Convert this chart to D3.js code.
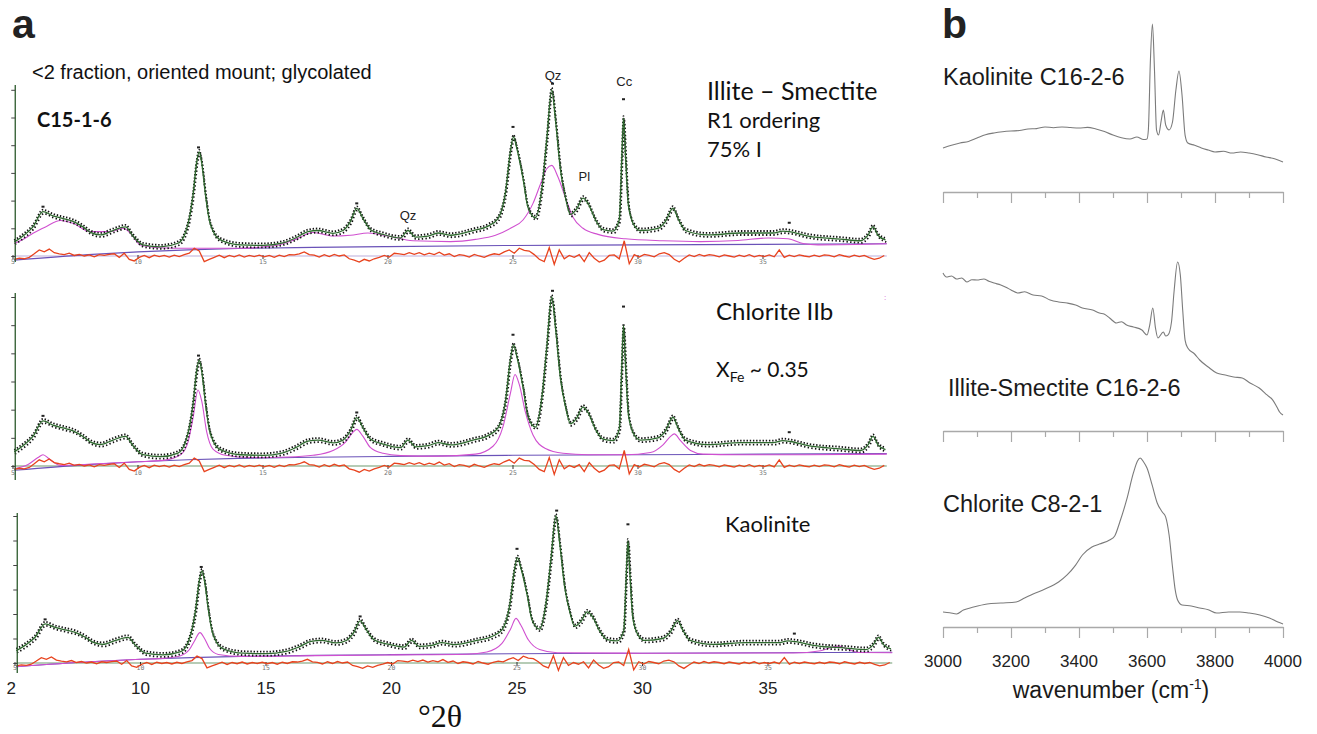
<!DOCTYPE html>
<html><head><meta charset="utf-8">
<script src="https://cdn.jsdelivr.net/npm/d3@7"></script>
<style>body{margin:0;background:#fff}svg{display:block}</style>
</head><body>
<svg id="c" width="1317" height="734"></svg>
<script>
// ---------- Panel a data (°2θ, intensity in axis-tick units) ----------
const observedXRD = [
 [5.05,0.5],[5.4,0.72],[5.8,1.05],[6.2,1.6],[6.6,1.45],[7.0,1.35],[7.4,1.25],[7.8,1.05],[8.1,0.85],[8.5,0.76],
 [9.0,0.92],[9.5,1.05],[9.8,0.72],[10.2,0.4],[10.9,0.33],[11.6,0.46],[11.9,0.85],[12.05,1.35],[12.2,2.2],[12.35,3.4],
 [12.45,3.76],[12.55,3.35],[12.7,2.2],[12.85,1.3],[13.0,0.9],[13.3,0.58],[14.1,0.4],[15.0,0.38],[15.8,0.47],[16.3,0.65],
 [16.8,0.88],[17.2,0.92],[17.8,0.82],[18.2,0.92],[18.5,1.25],[18.75,1.72],[19.0,1.35],[19.3,0.95],[19.8,0.78],[20.5,0.65],
 [20.8,0.92],[21.1,0.68],[21.6,0.72],[22.0,0.83],[22.5,0.75],[23.4,0.92],[24.0,1.08],[24.4,1.35],[24.7,2.3],[24.9,3.8],
 [25.02,4.3],[25.15,3.9],[25.4,2.8],[25.6,1.75],[25.9,1.38],[26.15,2.4],[26.35,4.2],[26.55,6.0],[26.7,4.9],[26.9,3.1],
 [27.1,2.1],[27.3,1.5],[27.55,1.7],[27.8,2.09],[28.0,1.9],[28.3,1.3],[28.6,0.95],[29.0,0.9],[29.25,1.3],[29.35,3.5],
 [29.42,4.98],[29.5,3.6],[29.62,1.8],[29.85,1.1],[30.1,0.92],[30.8,1.0],[31.1,1.25],[31.4,1.73],[31.6,1.35],[31.9,0.92],
 [32.8,0.76],[34.1,0.83],[35.4,0.83],[35.8,0.9],[36.1,0.87],[36.8,0.72],[38.1,0.61],[38.9,0.55],[39.2,0.75],[39.4,1.05],
 [39.6,0.75],[39.9,0.58]
];
const observedTopMarks = [[6.2,1.78],[12.42,3.92],[18.75,1.9],[25.0,4.66],[26.58,6.22],[29.42,5.66],[36.05,1.2]];
const backgroundXRD = [[5.05,-0.15],[8,0.05],[10,0.15],[12,0.22],[14,0.27],[17,0.31],[20,0.34],[25,0.38],[30,0.4],[35,0.42],[39.95,0.44]];
const illiteSmectiteFit = [
 [5.05,0.45],[5.5,0.65],[5.8,0.82],[6.3,1.05],[6.9,1.28],[7.4,1.18],[8.1,0.88],[8.9,0.88],[9.4,1.0],[9.7,0.82],
 [10.1,0.4],[10.9,0.3],[12,0.28],[14,0.28],[15.5,0.38],[16.3,0.6],[17,0.85],[17.8,0.72],[18.5,0.75],[19.2,0.83],
 [20,0.72],[21,0.55],[22.5,0.52],[23.5,0.6],[24.3,0.75],[24.9,1.0],[25.4,1.3],[25.8,1.9],[26.1,2.6],[26.35,3.15],
 [26.55,3.27],[26.8,2.85],[27.1,2.1],[27.4,1.4],[27.8,1.0],[28.4,0.78],[29.5,0.62],[31.0,0.55],[32.5,0.52],[34,0.56],
 [35.2,0.65],[36,0.62],[36.6,0.45],[37.2,0.4],[39.95,0.44]
];
const chloriteFit = [
 [5.05,-0.1],[5.6,0.05],[6.0,0.3],[6.2,0.4],[6.45,0.25],[6.9,0.02],[8,0.06],[10,0.15],[11,0.2],[11.7,0.4],
 [12.0,0.85],[12.2,1.7],[12.4,2.7],[12.55,2.3],[12.75,1.2],[13.0,0.6],[13.5,0.38],[14.5,0.3],[16,0.32],[17,0.38],
 [17.8,0.55],[18.3,0.85],[18.6,1.2],[18.75,1.3],[19.0,1.05],[19.3,0.65],[19.8,0.45],[20.5,0.37],[22,0.35],[23.5,0.42],
 [24.2,0.7],[24.6,1.4],[24.9,2.6],[25.08,3.25],[25.25,2.9],[25.5,1.9],[25.8,1.1],[26.3,0.62],[27,0.45],[28,0.4],
 [29.5,0.4],[30.5,0.48],[31.0,0.75],[31.3,1.05],[31.45,1.14],[31.7,0.9],[32.1,0.55],[32.6,0.42],[34,0.4],[36,0.4],[39.95,0.42]
];
const kaoliniteFit = [
 [5.05,-0.15],[8,0.05],[10,0.15],[11,0.2],[11.6,0.3],[11.95,0.55],[12.15,0.9],[12.37,1.24],[12.55,1.0],[12.75,0.6],
 [13.1,0.35],[14,0.27],[17,0.3],[20,0.33],[23,0.36],[23.8,0.45],[24.4,0.8],[24.75,1.4],[24.96,1.82],[25.15,1.55],
 [25.45,0.95],[25.9,0.55],[26.6,0.42],[30,0.4],[36,0.41],[37.1,0.5],[37.6,0.66],[37.8,0.69],[38.1,0.6],[38.6,0.43],[39.95,0.42]
];
// residual (obs - calc), sampled every 0.2 °2θ from 5.05
const residualStart = 5.05, residualStep = 0.2;
const residualXRD = [
 -0.12,-0.08,-0.1,-0.05,0.08,0.22,0.15,0.25,0.12,0.08,
 0.05,0.1,0.02,0.06,0.0,0.04,-0.03,0.05,0.02,0.06,
 0.08,-0.05,0.1,-0.12,-0.18,-0.05,0.02,-0.06,0.03,-0.02,
 0.02,-0.04,0.03,-0.02,0.05,0.1,0.28,0.18,-0.2,-0.12,
 -0.05,0.03,-0.06,0.02,-0.03,0.04,-0.04,0.02,-0.02,0.03,
 -0.03,0.02,-0.05,0.03,-0.02,0.05,0.04,0.08,0.15,0.05,
 0.03,-0.04,0.05,-0.02,0.06,0.0,0.04,-0.1,-0.15,-0.22,
 -0.12,-0.18,-0.1,-0.05,0.02,-0.04,0.1,0.08,0.05,0.12,
 0.06,0.12,0.04,0.1,0.05,0.14,0.03,0.08,-0.02,0.05,
 0.02,-0.04,0.06,0.0,-0.05,0.03,0.08,0.05,0.15,0.22,
 0.1,0.28,0.2,0.18,0.05,-0.12,-0.2,0.3,-0.3,0.22,
 -0.1,0.02,-0.05,0.05,-0.2,0.12,-0.08,-0.22,-0.15,0.02,
 0.04,-0.1,0.55,-0.28,0.05,-0.04,0.06,0.02,-0.03,0.08,
 0.12,0.05,-0.12,-0.22,-0.08,0.04,-0.02,0.06,0.0,0.05,
 0.02,-0.03,0.04,0.0,-0.04,0.03,-0.02,0.05,-0.03,0.02,
 -0.02,0.04,-0.03,0.22,-0.05,0.03,-0.02,0.04,0.0,-0.03,
 0.03,-0.02,0.04,0.02,-0.03,0.05,0.0,-0.04,0.03,-0.02,
 0.02,-0.06,-0.12,-0.08,0.02
];
const smallTickVals = [5,10,15,20,25,30,35];
const bigTickVals = [4.85,10,15,20,25,30,35];
const bigTickLabels = ["2","10","15","20","25","30","35"];
const peakLabels = [{t:"Qz",x:20.8,y:1.3},{t:"Qz",x:26.6,y:6.35},{t:"Pl",x:27.85,y:2.7},{t:"Cc",x:29.45,y:6.13}];

// ---------- Panel b data (wavenumber cm-1, relative absorbance) ----------
const irKaolinite = [
 [3000,14.7],[3025,16.5],[3050,18],[3075,19],[3100,21.3],[3125,23.5],[3150,24.7],[3175,25.5],[3200,26],[3225,26.3],
 [3250,27.3],[3275,27.6],[3300,28.7],[3325,28.2],[3350,28.7],[3375,28.3],[3400,28],[3425,28.4],[3450,27.3],[3475,25.6],
 [3500,23.3],[3525,21.5],[3550,20.7],[3570,22],[3590,20.3],[3600,20.7],[3604,26.7],[3610,73],[3616,97.3],[3622,66.7],
 [3628,26.7],[3634,23.3],[3642,33.3],[3648,40],[3655,30],[3665,26.7],[3675,32],[3685,53.3],[3694,66],[3703,50],
 [3712,23.3],[3720,18],[3740,16.5],[3760,14.7],[3780,13.3],[3800,12],[3825,12.5],[3850,11.3],[3875,12],[3900,11.3],
 [3925,10.2],[3950,8.7],[3975,7.5],[4000,5.3]
];
const irIlliteSmectite = [
 [3000,98],[3010,95.3],[3025,96],[3040,94],[3055,94.7],[3070,92],[3085,93.5],[3100,93.3],[3120,94],[3135,92.5],
 [3150,91.3],[3170,90],[3185,88.5],[3200,86.7],[3220,84.7],[3240,85.5],[3265,83.3],[3290,82.7],[3315,80],[3340,78.7],
 [3365,78],[3390,76.7],[3410,74.7],[3440,73.3],[3460,71.3],[3475,70.5],[3490,68],[3510,64.7],[3525,65.5],[3540,63.3],
 [3560,62],[3585,60],[3600,56.7],[3608,63.3],[3617,74.7],[3625,61.3],[3632,54.7],[3648,58.7],[3655,56],[3662,56.7],
 [3672,65.3],[3680,86.7],[3690,105.3],[3698,96.7],[3705,73.3],[3712,53.3],[3720,48],[3740,44],[3755,40],[3780,35.3],
 [3805,31.3],[3830,30],[3855,28.7],[3880,28],[3903,24.7],[3930,21.3],[3953,16.7],[3970,13.3],[3982,8.7],[3990,5.3],[4000,3.3]
];
const irChlorite = [
 [3000,12],[3020,11.5],[3040,10.7],[3060,13.3],[3090,15.3],[3130,17.3],[3170,18],[3215,18.7],[3240,21.3],[3265,24],
 [3300,27.3],[3340,32],[3365,36.7],[3390,43.3],[3410,50],[3438,55.3],[3460,57.3],[3490,60],[3505,62.7],[3520,72],
 [3540,86.7],[3560,104.7],[3572,112.7],[3580,114.7],[3590,112],[3600,108],[3615,96.7],[3630,84.7],[3645,78.7],[3655,75.3],
 [3665,63.3],[3675,42],[3683,26.7],[3690,20],[3703,16.7],[3730,16],[3755,14.7],[3780,13.5],[3805,11.3],[3840,12],
 [3873,12],[3900,11.3],[3932,10],[3960,8],[3985,5.3],[4000,4]
];
const irTickVals = [3000,3100,3200,3300,3400,3500,3600,3700,3800,3900,4000];
const irTickLabels = ["3000","3200","3400","3600","3800","4000"];

// ---------- drawing ----------
const svg = d3.select('#c');
const sans = "'Liberation Sans', Arial, sans-serif";
const cal = "Lato, 'Open Sans', sans-serif";

const xTop = d3.scaleLinear().domain([5,40]).range([13,888]);
const xBot = d3.scaleLinear().domain([5,40]).range([15,893.5]);
const subplots = [
 {x:xTop, y:d3.scaleLinear().domain([0,6]).range([256,89.8]), fit:illiteSmectiteFit, axis:[85,262], zero:'#bcaedb', lab:8},
 {x:xTop, y:d3.scaleLinear().domain([0,6]).range([466,297]), fit:chloriteFit, axis:[293,480], zero:'#6e9a6e', lab:9},
 {x:xBot, y:d3.scaleLinear().domain([0,6]).range([663,516]), fit:kaoliniteFit, axis:[513,673], zero:'#6e9a6e', lab:7}
];

subplots.forEach(p => {
  const g = svg.append('g');
  const line = d3.line().x(d=>p.x(d[0])).y(d=>p.y(d[1])).curve(d3.curveMonotoneX);
  const x0 = p.x(5.05), x1 = p.x(39.95);
  g.append('line').attr('x1',x0).attr('x2',x1).attr('y1',p.y(0)).attr('y2',p.y(0))
    .attr('stroke',p.zero).attr('stroke-width',1.2);
  smallTickVals.forEach(v=>{
    g.append('line').attr('x1',p.x(v)).attr('x2',p.x(v)).attr('y1',p.y(0)-1).attr('y2',p.y(0)+3)
      .attr('stroke','#333').attr('stroke-width',1);
    g.append('text').attr('x',p.x(v)).attr('y',p.y(0)+p.lab).attr('text-anchor','middle')
      .attr('font-family',"'DejaVu Sans Mono', monospace").attr('font-size',6.5).attr('fill','#777').text(v);
  });
  g.append('path').datum(backgroundXRD).attr('d',line).attr('fill','none')
    .attr('stroke','#6a52b8').attr('stroke-width',1.1);
  g.append('path').datum(p.fit).attr('d',line).attr('fill','none')
    .attr('stroke','#d050d0').attr('stroke-width',1.1);
  const resLine = d3.line().x((d,i)=>p.x(residualStart+i*residualStep)).y(d=>p.y(d));
  g.append('path').datum(residualXRD).attr('d',resLine).attr('fill','none')
    .attr('stroke','#e8431e').attr('stroke-width',1.3);
  g.append('path').datum(observedXRD).attr('d',line).attr('fill','none').attr('transform','translate(0,-2)')
    .attr('stroke','#111').attr('stroke-width',1.8).attr('stroke-dasharray','1.4,1.8');
  g.append('path').datum(observedXRD).attr('d',line).attr('fill','none').attr('transform','translate(0.8,2)')
    .attr('stroke','#111').attr('stroke-width',1.8).attr('stroke-dasharray','1.4,2.3');
  g.append('path').datum(observedXRD).attr('d',line).attr('fill','none')
    .attr('stroke','#2e6a2e').attr('stroke-width',1.3);
  observedTopMarks.forEach(m=>{
    g.append('rect').attr('x',p.x(m[0])-1.5).attr('y',p.y(m[1])-1).attr('width',3).attr('height',2).attr('fill','#222');
  });
  g.append('line').attr('x1',x0+1).attr('x2',x0+1).attr('y1',p.axis[0]).attr('y2',p.axis[1])
    .attr('stroke','#2c5a2c').attr('stroke-width',1.3);
  const ax = g.append('g').attr('transform',`translate(${x0+1},0)`)
    .call(d3.axisLeft(p.y).tickValues([0,1,2,3,4,5,6]).tickSize(4).tickFormat(''));
  ax.select('.domain').remove();
  ax.selectAll('line').attr('stroke','#444');
});

const topSub = subplots[0];
peakLabels.forEach(l=>{
  svg.append('text').attr('x',topSub.x(l.x)).attr('y',topSub.y(l.y)).attr('text-anchor','middle')
    .attr('font-family',sans).attr('font-size',13).attr('fill','#222').text(l.t);
});
svg.append('text').attr('x',32).attr('y',79).attr('font-family',sans).attr('font-size',20).attr('fill','#111')
  .text('<2 fraction, oriented mount; glycolated');
svg.append('text').attr('x',37).attr('y',127).attr('font-family',cal).attr('font-weight','bold').attr('font-size',20).attr('fill','#111')
  .text('C15-1-6');
svg.append('text').attr('x',707).attr('y',100).attr('font-family',cal).attr('font-size',25).attr('fill','#111').text('Illite – Smectite');
svg.append('text').attr('x',707).attr('y',128).attr('font-family',cal).attr('font-size',22).attr('fill','#111').text('R1 ordering');
svg.append('text').attr('x',707).attr('y',157).attr('font-family',cal).attr('font-size',22).attr('fill','#111').text('75% I');
svg.append('text').attr('x',716).attr('y',320).attr('font-family',cal).attr('font-size',24).attr('fill','#111').text('Chlorite IIb');
const xfe = svg.append('text').attr('x',716).attr('y',377).attr('font-family',cal).attr('font-size',21).attr('fill','#111');
xfe.append('tspan').text('X');
xfe.append('tspan').attr('font-size',14).attr('dy',5).text('Fe');
xfe.append('tspan').attr('dy',-5).text(' ~ 0.35');
svg.append('text').attr('x',884).attr('y',300).attr('font-family',sans).attr('font-size',8).attr('fill','#d050d0').text(':');
svg.append('text').attr('x',725).attr('y',532).attr('font-family',cal).attr('font-size',22).attr('fill','#111').text('Kaolinite');

bigTickVals.forEach((v,i)=>{
  svg.append('text').attr('x',xBot(v)).attr('y',694).attr('text-anchor','middle')
    .attr('font-family',sans).attr('font-size',17).attr('fill','#222').text(bigTickLabels[i]);
});
svg.append('text').attr('x',418).attr('y',727).attr('font-family',"'Liberation Serif', 'DejaVu Serif', serif")
  .attr('font-size',32).attr('fill','#111').text('°2θ');

svg.append('text').attr('x',12).attr('y',38).attr('font-family',sans).attr('font-weight','bold').attr('font-size',41).attr('fill','#222').text('a');
svg.append('text').attr('x',942).attr('y',38).attr('font-family',sans).attr('font-weight','bold').attr('font-size',41).attr('fill','#222').text('b');

// ---------- panel b ----------
const xIR = d3.scaleLinear().domain([3000,4000]).range([943,1283]);
const irPanels = [
 {data:irKaolinite, y:d3.scaleLinear().domain([0,100]).range([170,20]), axisY:192, label:'Kaolinite C16-2-6', ly:85},
 {data:irIlliteSmectite, y:d3.scaleLinear().domain([0,100]).range([420,270]), axisY:431, label:'Illite-Smectite C16-2-6', ly:396, lx:948},
 {data:irChlorite, y:d3.scaleLinear().domain([0,100]).range([630,480]), axisY:627, label:'Chlorite C8-2-1', ly:512, ticks:true}
];
irPanels.forEach(p=>{
  const g = svg.append('g');
  const ax = g.append('g').attr('transform',`translate(0,${p.axisY})`)
    .call(d3.axisBottom(xIR).tickValues(irTickVals).tickSize(11).tickSizeOuter(0).tickFormat(''));
  ax.select('.domain').attr('stroke','#a9a9a9').attr('stroke-width',1.3);
  ax.selectAll('.tick line').attr('stroke','#a9a9a9').attr('stroke-width',1.2)
    .attr('y2',d=> (d%200===0)?11:6);
  if (p.ticks) {
    irTickLabels.forEach(t=>{
      g.append('text').attr('x',xIR(+t)).attr('y',p.axisY+40).attr('text-anchor','middle')
        .attr('font-family',sans).attr('font-size',17).attr('fill','#222').text(t);
    });
  }
  const line = d3.line().x(d=>xIR(d[0])).y(d=>p.y(d[1])).curve(d3.curveMonotoneX);
  g.append('path').datum(p.data).attr('d',line).attr('fill','none').attr('stroke','#7b7b7b').attr('stroke-width',1.1);
  g.append('text').attr('x',p.lx||943).attr('y',p.ly).attr('font-family',sans).attr('font-size',23.5).attr('fill','#1a1a1a').text(p.label);
});
const wl = svg.append('text').attr('x',1111).attr('y',698).attr('text-anchor','middle')
  .attr('font-family',sans).attr('font-size',23).attr('fill','#1a1a1a');
wl.append('tspan').text('wavenumber (cm');
wl.append('tspan').attr('font-size',14).attr('dy',-9).text('-1');
wl.append('tspan').attr('dy',9).text(')');
</script>
</body></html>
